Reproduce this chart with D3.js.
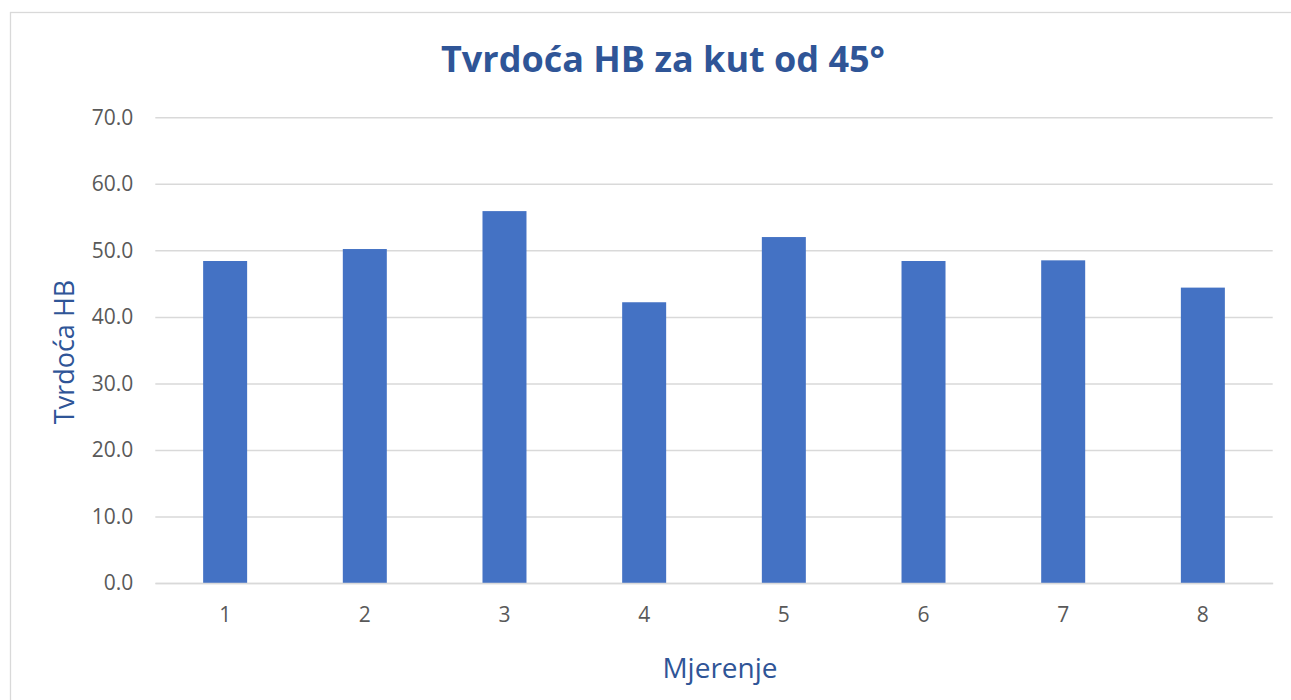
<!DOCTYPE html>
<html>
<head>
<meta charset="utf-8">
<script src="https://cdn.jsdelivr.net/npm/d3@7"></script>
<style>
  body { margin: 0; background: #fff; }
  text { font-family: "Open Sans", "Noto Sans", sans-serif; }
</style>
</head>
<body>
<svg id="chart" width="1291" height="700"></svg>
<script>
// data
var categories = ["1", "2", "3", "4", "5", "6", "7", "8"];
var values = [48.4, 50.2, 55.9, 42.2, 52.0, 48.4, 48.5, 44.4];
var yTicks = [0, 10, 20, 30, 40, 50, 60, 70];

var svg = d3.select("#chart");
var margin = {top: 117.3, right: 18.3, bottom: 117, left: 155.3};
var w = 1291 - margin.left - margin.right,
    h = 700 - margin.top - margin.bottom;

// chart area border
svg.append("rect")
    .attr("x", 10.5).attr("y", 12.5)
    .attr("width", 1320).attr("height", 720)
    .attr("fill", "none")
    .attr("stroke", "#d9d9d9")
    .attr("stroke-width", 1.3);

var x = d3.scaleBand().domain(categories).range([0, w]).paddingInner(0.685).paddingOuter(0.3425);
var y = d3.scaleLinear().domain([0, 70]).range([h, 0]);

var g = svg.append("g")
    .attr("transform", "translate(" + margin.left + "," + margin.top + ")");

// gridlines
g.append("g")
    .attr("class", "grid")
    .call(d3.axisLeft(y).tickValues(yTicks).tickSize(-w).tickFormat(""))
    .call(function(s) {
        s.select(".domain").remove();
        s.selectAll("line").attr("stroke", "#d9d9d9").attr("stroke-width", 1.5);
    });

// bars
g.selectAll(".bar")
    .data(values)
    .enter().append("rect")
    .attr("class", "bar")
    .attr("x", function(d, i) { return x(categories[i]); })
    .attr("width", x.bandwidth())
    .attr("y", function(d) { return y(d); })
    .attr("height", function(d) { return h - y(d); })
    .attr("fill", "#4472c4");

// y axis labels
g.append("g")
    .call(d3.axisLeft(y).tickValues(yTicks).tickSize(0).tickPadding(22).tickFormat(d3.format(".1f")))
    .call(function(s) {
        s.select(".domain").remove();
        s.selectAll("text").attr("fill", "#595959").style("font-size", "21px")
            .style("font-family", "'Open Sans', sans-serif");
    });

// x axis labels
g.append("g")
    .attr("transform", "translate(0," + h + ")")
    .call(d3.axisBottom(x).tickSize(0).tickPadding(24))
    .call(function(s) {
        s.select(".domain").attr("stroke", "#d9d9d9").attr("stroke-width", 1.5);
        s.selectAll("text").attr("fill", "#595959").style("font-size", "21px")
            .style("font-family", "'Open Sans', sans-serif");
    });

// title
svg.append("text")
    .attr("x", 663).attr("y", 72)
    .attr("text-anchor", "middle")
    .attr("fill", "#2f5597")
    .style("font-size", "36px")
    .style("font-weight", "bold")
    .text("Tvrdoća HB za kut od 45°");

// axis titles
svg.append("text")
    .attr("x", 720).attr("y", 678)
    .attr("text-anchor", "middle")
    .attr("fill", "#2f5597")
    .style("font-size", "28px")
    .text("Mjerenje");

svg.append("text")
    .attr("transform", "translate(74,352) rotate(-90)")
    .attr("text-anchor", "middle")
    .attr("fill", "#2f5597")
    .style("font-size", "27px")
    .text("Tvrdoća HB");
</script>
</body>
</html>
